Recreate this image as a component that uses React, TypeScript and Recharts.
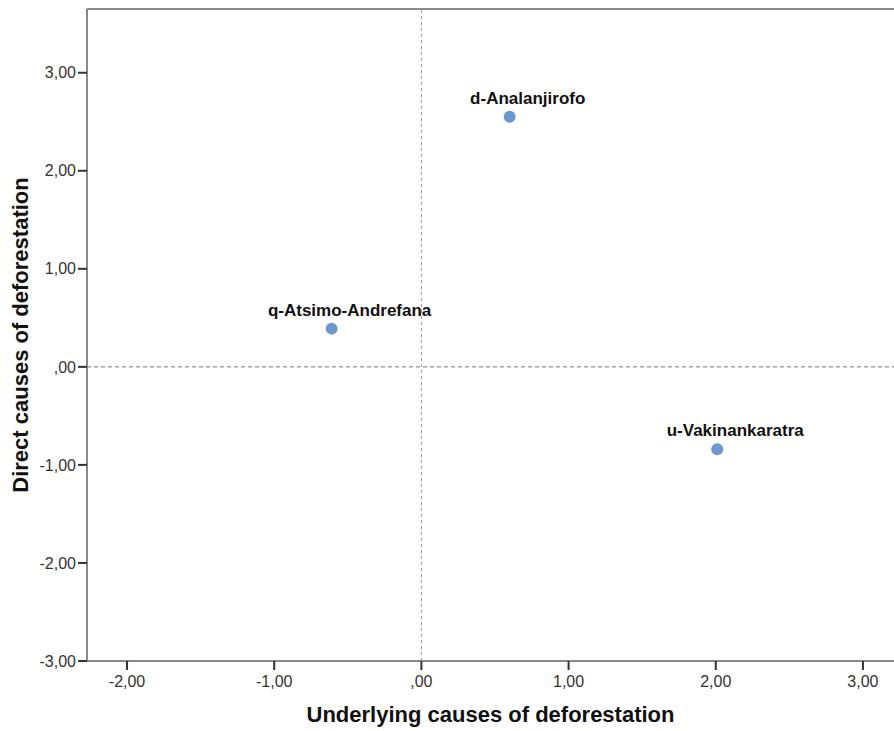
import { ScatterChart, Scatter, XAxis, YAxis, ReferenceLine } from "recharts";

// regions and their factor scores
const regionNames = ["d-Analanjirofo", "q-Atsimo-Andrefana", "u-Vakinankaratra"];
const underlyingScores = [0.6, -0.61, 2.01];
const directScores = [2.55, 0.39, -0.84];

const xTicks = [-2, -1, 0, 1, 2, 3];
const yTicks = [-3, -2, -1, 0, 1, 2, 3];
const xDomain = [-2.272, 3.211];
const yDomain = [-3, 3.65];

const points = regionNames.map((name, i) => ({ name, x: underlyingScores[i], y: directScores[i] }));

const fmt = (v: number) => (v === 0 ? ",00" : v.toFixed(2).replace(".", ","));

const FONT = '"Liberation Sans", Arial, sans-serif';
const AXIS = "#8d8884";

const PointWithLabel = (props: any) => {
  const { cx, cy, payload } = props;
  return (
    <g>
      <circle cx={cx} cy={cy} r={6} fill="#6b98cf" />
      <text x={cx + 18} y={cy - 13} textAnchor="middle" fontSize={17} fontWeight="bold" fill="#111" fontFamily={FONT}>
        {payload.name}
      </text>
    </g>
  );
};

export default function App() {
  return (
    <div style={{ width: 894, height: 731, background: "#fff", fontFamily: FONT }}>
      <style>{`body{margin:0}`}</style>
      <ScatterChart width={894} height={731} margin={{ top: 9, right: 0, bottom: 0, left: 0 }}>
        <XAxis
          type="number"
          dataKey="x"
          domain={xDomain}
          ticks={xTicks}
          allowDataOverflow
          tickFormatter={fmt}
          height={70}
          tickSize={9}
          tickMargin={6}
          axisLine={{ stroke: AXIS, strokeWidth: 2 }}
          tickLine={{ stroke: "#333", strokeWidth: 2 }}
          tick={{ fontSize: 16, fill: "#333", fontFamily: FONT }}
          label={{
            value: "Underlying causes of deforestation",
            position: "insideBottom",
            offset: 9,
            style: { fontSize: 22, fontWeight: "bold", fill: "#111", fontFamily: FONT },
          }}
        />
        <YAxis
          type="number"
          dataKey="y"
          domain={yDomain}
          ticks={yTicks}
          allowDataOverflow
          tickFormatter={fmt}
          width={87}
          tickSize={9}
          tickMargin={2}
          axisLine={{ stroke: AXIS, strokeWidth: 2 }}
          tickLine={{ stroke: "#333", strokeWidth: 2 }}
          tick={{ fontSize: 16, fill: "#333", fontFamily: FONT }}
          label={{
            value: "Direct causes of deforestation",
            angle: -90,
            position: "insideLeft",
            offset: 20,
            style: { fontSize: 22, fontWeight: "bold", fill: "#111", fontFamily: FONT, textAnchor: "middle" },
          }}
        />
        <ReferenceLine y={yDomain[1]} stroke={AXIS} strokeWidth={2} ifOverflow="visible" />
        <ReferenceLine x={0} stroke="#999" strokeDasharray="3 3" />
        <ReferenceLine y={0} stroke="#777" strokeDasharray="4 3" />
        <Scatter data={points} shape={PointWithLabel} isAnimationActive={false} />
      </ScatterChart>
    </div>
  );
}
